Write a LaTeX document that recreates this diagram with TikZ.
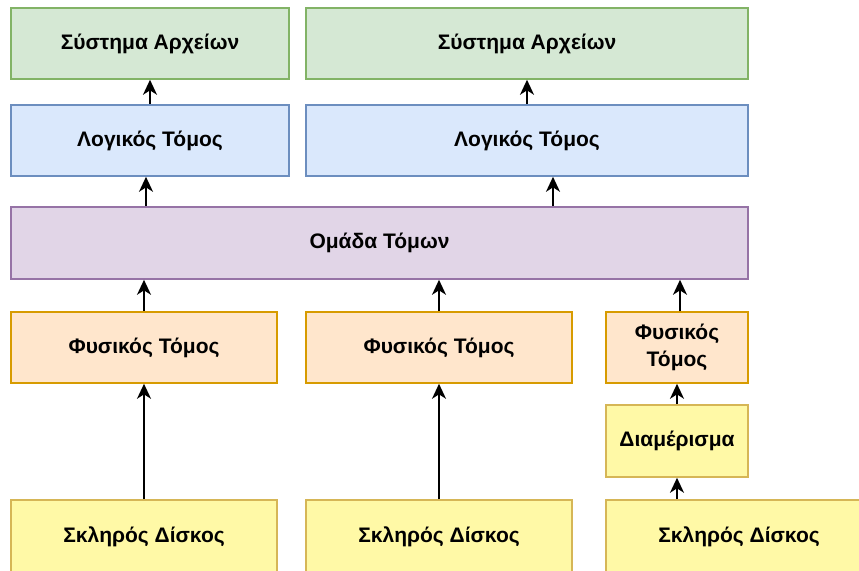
\documentclass[tikz,border=0pt]{standalone}
\usepackage{fontspec}
\setmainfont{Liberation Sans}
\usetikzlibrary{arrows.meta}

\definecolor{fsfill}{HTML}{D5E8D4}
\definecolor{fsdraw}{HTML}{82B366}
\definecolor{lvfill}{HTML}{DAE8FC}
\definecolor{lvdraw}{HTML}{6C8EBF}
\definecolor{vgfill}{HTML}{E1D5E7}
\definecolor{vgdraw}{HTML}{9673A6}
\definecolor{pvfill}{HTML}{FFE6CC}
\definecolor{pvdraw}{HTML}{D79B00}
\definecolor{hdfill}{HTML}{FFF9A6}
\definecolor{hddraw}{HTML}{D6B656}

\begin{document}
\begin{tikzpicture}
[every node/.style={inner sep=0pt, align=center, font=\fontsize{21}{27}\selectfont\bfseries},
 box/.style={rectangle, minimum height=71pt, line width=1.6pt},
 fsbox/.style={box, fill=fsfill, draw=fsdraw},
 lvbox/.style={box, fill=lvfill, draw=lvdraw},
 vgbox/.style={box, fill=vgfill, draw=vgdraw},
 pvbox/.style={box, fill=pvfill, draw=pvdraw},
 hdbox/.style={box, fill=hdfill, draw=hddraw},
 arr/.style={line width=2pt, -{Stealth[length=15pt, width=14pt, inset=4.5pt]}, color=black}]
\useasboundingbox (0pt, 0pt) rectangle (859pt, -570pt);
\node (fs1) [fsbox, minimum width=278pt] at (150.0pt, -43.5pt) {Σύστημα Αρχείων};
\node (fs2) [fsbox, minimum width=442pt] at (527.0pt, -43.5pt) {Σύστημα Αρχείων};
\node (lv1) [lvbox, minimum width=278pt] at (150.0pt, -140.5pt) {Λογικός Τόμος};
\node (lv2) [lvbox, minimum width=442pt] at (527.0pt, -140.5pt) {Λογικός Τόμος};
\node (vg) [vgbox, minimum width=737pt, minimum height=72pt] at (379.5pt, -243.0pt) {Ομάδα Τόμων};
\node (pv1) [pvbox, minimum width=266pt] at (144.0pt, -347.5pt) {Φυσικός Τόμος};
\node (pv2) [pvbox, minimum width=266pt] at (439.0pt, -347.5pt) {Φυσικός Τόμος};
\node (pv3) [pvbox, minimum width=142pt] at (677.0pt, -347.5pt) {Φυσικός\\Τόμος};
\node (part) [hdbox, minimum width=142pt, minimum height=72pt] at (677.0pt, -441.0pt) {Διαμέρισμα};
\node (hd1) [hdbox, minimum width=266pt, minimum height=74pt] at (144.0pt, -537.0pt) {Σκληρός Δίσκος};
\node (hd2) [hdbox, minimum width=266pt, minimum height=74pt] at (439.0pt, -537.0pt) {Σκληρός Δίσκος};
\node (hd3) [hdbox, minimum width=266pt, minimum height=74pt] at (739.0pt, -537.0pt) {Σκληρός Δίσκος};
\coordinate (c1) at ([xshift=-4pt]lv1.south);
\coordinate (c2) at ([xshift=26pt]lv2.south);
\coordinate (c3) at ([xshift=3pt]pv3.north);
\draw [arr] (lv1) -- (fs1);
\draw [arr] (lv2) -- (fs2);
\draw [arr] (c1 |- vg.north) -- (c1);
\draw [arr] (c2 |- vg.north) -- (c2);
\draw [arr] (pv1) -- (pv1 |- vg.south);
\draw [arr] (pv2) -- (pv2 |- vg.south);
\draw [arr] (c3) -- (c3 |- vg.south);
\draw [arr] (hd1) -- (pv1);
\draw [arr] (hd2) -- (pv2);
\draw [arr] (part) -- (pv3);
\draw [arr] (part |- hd3.north) -- (part);
\end{tikzpicture}
\end{document}
